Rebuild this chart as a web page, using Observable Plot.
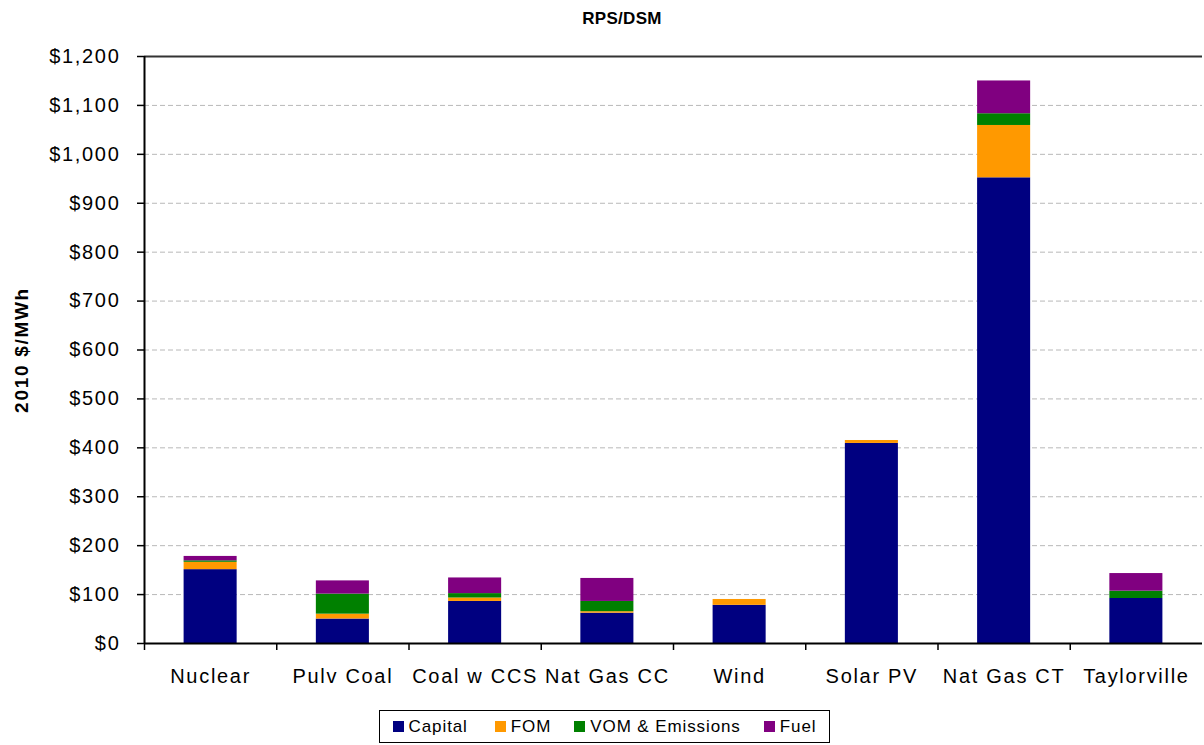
<!DOCTYPE html>
<html>
<head>
<meta charset="utf-8">
<script src="https://cdn.jsdelivr.net/npm/d3@7"></script>
<script src="https://cdn.jsdelivr.net/npm/@observablehq/plot@0.6"></script>
<style>
  body { margin: 0; background: #fff; font-family: "Liberation Sans", Arial, sans-serif; color: #000; }
  #wrap { position: relative; width: 1204px; height: 745px; }
  #title { position: absolute; top: 0; left: 40px; width: 1164px; height: 40px; line-height: 38px;
           text-align: center; font-weight: bold; font-size: 17px; letter-spacing: 0.3px; }
  #chart { position: absolute; top: 40px; left: 0; }
  #legend { position: absolute; left: 379px; top: 710px; width: 449px; height: 31px;
            border: 1px solid #000; display: flex; align-items: center; justify-content: center;
            gap: 23px; font-size: 17px; letter-spacing: 0.9px; box-sizing: content-box; }
  #legend .item { display: flex; align-items: center; }
  #legend .sw { width: 11px; height: 11px; margin-right: 5px; }
  #legend .item:first-child { margin-right: 4px; }
</style>
</head>
<body>
<div id="wrap">
  <div id="title">RPS/DSM</div>
  <div id="chart"></div>
  <div id="legend"></div>
</div>
<script>
// Levelized cost components by technology, 2010 $/MWh
const categories = ["Nuclear", "Pulv Coal", "Coal w CCS", "Nat Gas CC", "Wind", "Solar PV", "Nat Gas CT", "Taylorville"];
const components = ["Capital", "FOM", "VOM & Emissions", "Fuel"];
const colors = ["#000080", "#FF9900", "#008000", "#800080"];

const capital = [151, 50, 86, 62, 78, 409, 952, 92];
const fom     = [15, 10, 7, 3, 12, 6, 107, 0];
const vom     = [3, 41, 9, 21, 0, 0, 24, 15];
const fuel    = [9, 27, 32, 47, 0, 0, 67, 36];

const yTicks = [0, 100, 200, 300, 400, 500, 600, 700, 800, 900, 1000, 1100, 1200];
const gridTicks = [100, 200, 300, 400, 500, 600, 700, 800, 900, 1000, 1100];

const series = [capital, fom, vom, fuel];
const rows = [];
categories.forEach((name, i) => {
  components.forEach((comp, k) => {
    rows.push({category: name, index: i, component: comp, value: series[k][i]});
  });
});

const fmt = d3.format(",");

const chart = Plot.plot({
  width: 1204,
  height: 660,
  marginTop: 16,
  marginBottom: 57,
  marginLeft: 144,
  marginRight: 2,
  style: {fontFamily: "'Liberation Sans', Arial, sans-serif", fontSize: "20px", letterSpacing: "1.7px", color: "#000", background: "#fff"},
  x: {domain: [0, categories.length], axis: null},
  y: {domain: [0, 1200], axis: null},
  color: {domain: components, range: colors},
  marks: [
    Plot.ruleY(gridTicks, {stroke: "#b8b8b8", strokeDasharray: "5,3", strokeWidth: 1}),
    Plot.ruleY([1200], {stroke: "#333", strokeWidth: 2}),
    Plot.rectY(rows, Plot.stackY({
      x1: "index",
      x2: d => d.index + 1,
      y: "value",
      fill: "component",
      insetLeft: 39.6,
      insetRight: 39.6
    })),
    // y axis with dollar labels
    Plot.axisY(yTicks, {
      tickSize: 7, tickPadding: 17, strokeWidth: 1.5,
      tickFormat: d => "$" + fmt(d), label: null, fontSize: 20
    }),
    // tick marks between categories
    Plot.axisX(d3.range(0, categories.length), {
      tickSize: 7, tickFormat: () => "", label: null, strokeWidth: 1.5
    }),
    // category names centered in their slots
    Plot.axisX(categories.map((c, i) => i + 0.5), {
      tickSize: 0, tickPadding: 25, tickFormat: d => categories[Math.floor(d)],
      label: null, fontSize: 20
    }),
    Plot.ruleY([0], {stroke: "#000", strokeWidth: 2}),
    Plot.ruleX([0], {y1: 0, y2: 1200, stroke: "#000", strokeWidth: 2}),
    Plot.text(["2010 $/MWh"], {
      text: d => d, frameAnchor: "left", textAnchor: "middle", dx: -123, rotate: -90,
      fontWeight: "bold", fontSize: 19
    })
  ]
});
document.getElementById("chart").appendChild(chart);

const legend = document.getElementById("legend");
components.forEach((c, k) => {
  const item = document.createElement("div");
  item.className = "item";
  const sw = document.createElement("span");
  sw.className = "sw";
  sw.style.background = colors[k];
  const label = document.createElement("span");
  label.textContent = c;
  item.appendChild(sw);
  item.appendChild(label);
  legend.appendChild(item);
});
</script>
</body>
</html>
